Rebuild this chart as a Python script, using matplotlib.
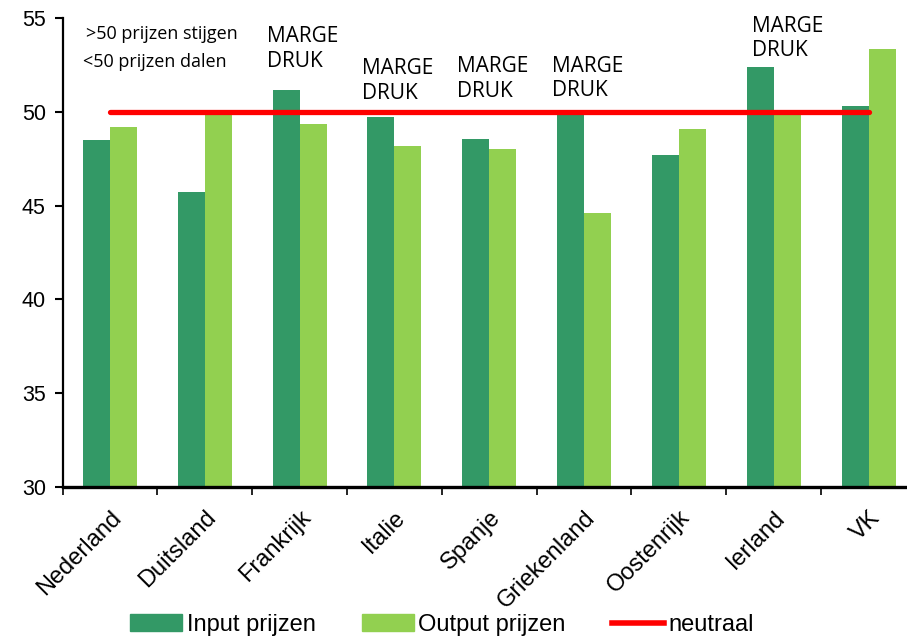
import matplotlib
matplotlib.use("Agg")
import matplotlib.pyplot as plt
import numpy as np
from matplotlib.patches import Patch
from matplotlib.lines import Line2D

countries = ["Nederland", "Duitsland", "Frankrijk", "Italie", "Spanje",
             "Griekenland", "Oostenrijk", "Ierland", "VK"]
input_prijzen = [48.5, 45.75, 51.15, 49.7, 48.55, 50.0, 47.7, 52.4, 50.3]
output_prijzen = [49.2, 50.0, 49.35, 48.2, 48.0, 44.6, 49.1, 50.0, 53.35]
neutraal = 50
marge_idx = [2, 3, 4, 5, 7]
marge_top = [54.55, 52.85, 52.95, 53.0, 55.1]
yticks = [30, 35, 40, 45, 50, 55]

dark = "#339966"
light = "#92D050"

plt.rcParams['font.family'] = ['Liberation Sans', 'DejaVu Sans']
fig = plt.figure(figsize=(9.07, 6.39), dpi=100)
W, H = 907, 639
x0, x1 = 62.5, 916
y0, y1 = 487, 18
ax = fig.add_axes([x0 / W, 1 - y0 / H, (x1 - x0) / W, (y0 - y1) / H])

x = np.arange(len(countries))
bw = 0.285
ax.bar(x - bw / 2, [v - 30 for v in input_prijzen], bw, bottom=30, color=dark, zorder=2)
ax.bar(x + bw / 2, [v - 30 for v in output_prijzen], bw, bottom=30, color=light, zorder=2)
ax.plot([x[0], x[-1]], [neutraal, neutraal], color="#FF0000", lw=3.8,
        solid_capstyle="round", zorder=3)

ax.set_xlim(-0.5, len(countries) - 0.5)
ax.set_ylim(30, 55)
ax.set_yticks(yticks)
ax.set_yticklabels([str(t) for t in yticks], fontsize=15.5)
ax.set_xticks(np.arange(len(countries) + 1) - 0.5, minor=False)
ax.set_xticklabels([])
ax.set_xticks(x, minor=True)
ax.set_xticklabels(countries, minor=True, rotation=45, ha="right",
                   rotation_mode="anchor", fontsize=17)
ax.tick_params(axis="x", which="minor", length=0, pad=14)
ax.tick_params(axis="x", which="major", length=6, width=1.2, direction="out")
ax.tick_params(axis="y", length=6, width=1.5, direction="out", pad=6)
for s in ["top", "right"]:
    ax.spines[s].set_visible(False)
ax.spines["left"].set_linewidth(1.6)
ax.spines["bottom"].set_linewidth(2.4)

for i, t in zip(marge_idx, marge_top):
    ax.text(i - (0.23 if i == 7 else 0.34), t, "MARGE\nDRUK", ha="left", va="top",
            fontsize=15, fontfamily="Open Sans", linespacing=1.2)

ax.text(-0.25, 54.65, ">50 prijzen stijgen", ha="left", va="top",
        fontsize=13, fontfamily="Open Sans")
ax.text(-0.28, 53.15, "<50 prijzen dalen", ha="left", va="top",
        fontsize=13, fontfamily="Open Sans")

handles = [Patch(color=dark, label="Input prijzen"),
           Patch(color=light, label="Output prijzen"),
           Line2D([0], [0], color="#FF0000", lw=4, label="neutraal")]
fig.legend(handles=handles, loc="center", bbox_to_anchor=(442 / W, 1 - 625 / H),
           ncol=3, frameon=False, handlelength=2.2, handleheight=0.7,
           handletextpad=0.2, columnspacing=1.95, prop={"size": 17})

fig.savefig("out.png", dpi=100)
